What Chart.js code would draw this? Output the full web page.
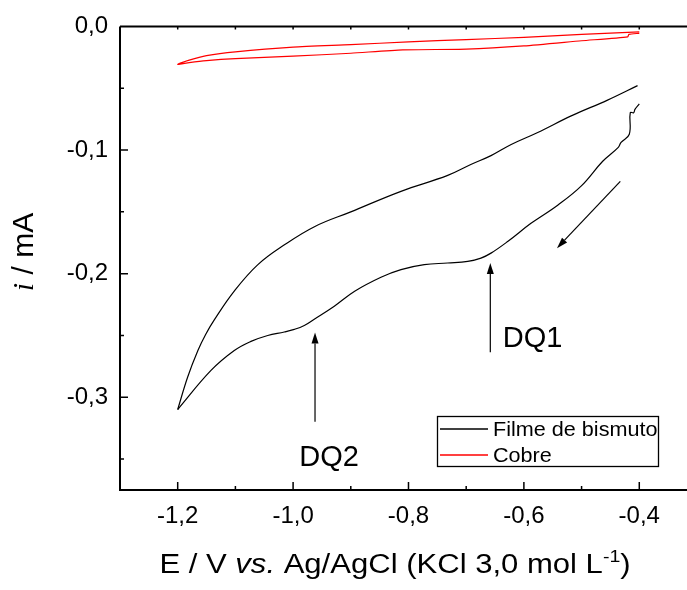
<!DOCTYPE html>
<html lang="pt">
<head>
<meta charset="UTF-8">
<title>Voltamograma - Filme de bismuto / Cobre</title>
<script src="https://cdn.jsdelivr.net/npm/chart.js"></script>
<style>
    body {
        margin: 0;
        background: #fff;
    }
</style>
</head>
<body>
<canvas id="cv" width="687" height="590"></canvas>
<script>
// Filme de bismuto: varredura catodica (-0,4 -> -1,2)
const bismutoIdaE = [-0.400, -0.4075, -0.4097, -0.4156, -0.4173, -0.4316, -0.4364, -0.4634, -0.5004, -0.5414,
    -0.5877, -0.6281, -0.6570, -0.6744, -0.6974, -0.7321, -0.7726, -0.8130, -0.8477, -0.8933,
    -0.9286, -0.9633, -0.9806, -0.9979, -1.0153, -1.0440, -1.0730, -1.1019, -1.1423, -1.200];
const bismutoIdaI = [-0.0626, -0.0671, -0.0698, -0.0698, -0.0872, -0.0938, -0.0978, -0.1091, -0.1290, -0.1446,
    -0.1593, -0.1740, -0.1834, -0.1874, -0.1901, -0.1914, -0.1927, -0.1967, -0.2029, -0.2142,
    -0.2263, -0.2368, -0.2419, -0.2451, -0.2472, -0.2500, -0.2548, -0.2622, -0.2783, -0.3099];
// e volta (-1,2 -> -0,4)
const bismutoVoltaE = [-1.200, -1.1827, -1.165, -1.1518, -1.1366, -1.102, -1.061, -1.015, -0.963, -0.900,
    -0.813, -0.732, -0.692, -0.657, -0.622, -0.576, -0.518, -0.455, -0.403];
const bismutoVoltaI = [-0.3099, -0.2836, -0.2622, -0.2494, -0.2374, -0.2141, -0.1927, -0.1767, -0.1620, -0.1500,
    -0.1334, -0.1205, -0.1117, -0.1045, -0.0955, -0.0858, -0.0724, -0.0596, -0.0479];

// Cobre
const cobreE = [-0.400, -0.500, -0.600, -0.700, -0.800, -0.900, -1.000, -1.100, -1.150, -1.180, -1.200,
    -1.180, -1.150, -1.100, -1.000, -0.900, -0.810, -0.700, -0.600, -0.500, -0.420, -0.418, -0.400];
const cobreI = [-0.0044, -0.0065, -0.0088, -0.0107, -0.0125, -0.0148, -0.0168, -0.0206, -0.0237, -0.0273, -0.0307,
    -0.0293, -0.0277, -0.0261, -0.0241, -0.0217, -0.0190, -0.0184, -0.0158, -0.0116, -0.0084, -0.0064, -0.0056];

const seriesNames = ['Filme de bismuto', 'Cobre'];
const xTicks = [-1.2, -1.0, -0.8, -0.6, -0.4];
const yTicks = [0.0, -0.1, -0.2, -0.3];

// anotacoes (em unidades dos eixos)
const notes = [
    { text: 'DQ1', e: -0.6367, i: -0.2596 },
    { text: 'DQ2', e: -0.9892, i: -0.3553 }
];
const arrows = [
    { e0: -0.6582, i0: -0.2636, e1: -0.6582, i1: -0.1914 },
    { e0: -0.962, i0: -0.3197, e1: -0.962, i1: -0.2476 },
    { e0: -0.4329, i0: -0.1253, e1: -0.5426, i1: -0.1794 }
];

const toXY = (xs, ys) => xs.map((x, k) => ({ x: x, y: ys[k] }));
const fmt = v => (Math.abs(v) < 1e-9 ? 0 : v).toFixed(1).replace('.', ',');
const SANS = '"Liberation Sans", Arial, sans-serif';

function arrow(ctx, x0, y0, x1, y1) {
    const ang = Math.atan2(y1 - y0, x1 - x0);
    const len = 11, hw = 3.5;
    const bx = x1 - len * Math.cos(ang), by = y1 - len * Math.sin(ang);
    ctx.beginPath();
    ctx.moveTo(x0, y0);
    ctx.lineTo(bx, by);
    ctx.stroke();
    ctx.beginPath();
    ctx.moveTo(x1, y1);
    ctx.lineTo(bx + hw * Math.sin(ang), by - hw * Math.cos(ang));
    ctx.lineTo(bx - hw * Math.sin(ang), by + hw * Math.cos(ang));
    ctx.closePath();
    ctx.fill();
}

// texto em partes (fontes diferentes), com esticamento horizontal sx
function richText(ctx, parts, cx, y, sx) {
    let w = 0;
    parts.forEach(p => { ctx.font = p.f; w += ctx.measureText(p.t).width; });
    ctx.save();
    ctx.translate(cx, y);
    ctx.scale(sx, 1);
    let x = -w / 2;
    parts.forEach(p => {
        ctx.font = p.f;
        ctx.fillText(p.t, x, p.dy || 0);
        x += ctx.measureText(p.t).width;
    });
    ctx.restore();
}

const decor = {
    id: 'decor',
    afterDraw(chart) {
        const ctx = chart.ctx;
        const a = chart.chartArea;
        const xs = chart.scales.x, ys = chart.scales.y;
        ctx.save();
        ctx.strokeStyle = '#000';
        ctx.fillStyle = '#000';

        // eixos
        ctx.lineWidth = 2;
        ctx.beginPath();
        ctx.moveTo(a.left, a.top);
        ctx.lineTo(a.left, a.bottom);
        ctx.lineTo(a.right, a.bottom);
        ctx.moveTo(a.left, a.top);
        ctx.lineTo(a.right, a.top);
        ctx.stroke();

        // marcas para dentro
        ctx.lineWidth = 1.5;
        ctx.beginPath();
        for (let k = 1; k <= 7; k++) {
            const py = ys.getPixelForValue(-0.05 * k);
            const len = k % 2 === 0 ? 8 : 4;
            ctx.moveTo(a.left, py);
            ctx.lineTo(a.left + len, py);
        }
        for (let k = 0; k <= 8; k++) {
            const px = xs.getPixelForValue(-1.2 + 0.1 * k);
            const len = k % 2 === 0 ? 8 : 4;
            ctx.moveTo(px, a.bottom);
            ctx.lineTo(px, a.bottom - len);
            ctx.moveTo(px, a.top);
            ctx.lineTo(px, a.top + 3);
        }
        ctx.stroke();

        // setas e rotulos
        ctx.lineWidth = 1.2;
        arrows.forEach(r => arrow(ctx, xs.getPixelForValue(r.e0), ys.getPixelForValue(r.i0),
            xs.getPixelForValue(r.e1), ys.getPixelForValue(r.i1)));
        ctx.font = '29px ' + SANS;
        ctx.textBaseline = 'alphabetic';
        ctx.textAlign = 'left';
        notes.forEach(n => ctx.fillText(n.text, xs.getPixelForValue(n.e), ys.getPixelForValue(n.i)));

        // legenda (uma entrada por nome)
        ctx.lineWidth = 1.3;
        ctx.strokeRect(437.5, 416.5, 221, 50);
        ctx.font = '20px ' + SANS;
        ctx.textBaseline = 'middle';
        seriesNames.forEach((name, k) => {
            const ds = chart.data.datasets.find(d => d.label === name);
            const cy = 429 + k * 26;
            ctx.strokeStyle = ds.borderColor;
            ctx.lineWidth = 1.5;
            ctx.beginPath();
            ctx.moveTo(440, cy);
            ctx.lineTo(488, cy);
            ctx.stroke();
            ctx.save();
            ctx.translate(493, cy + 1);
            ctx.scale(1.08, 1);
            ctx.fillText(name, 0, 0);
            ctx.restore();
        });

        // titulo do eixo x
        ctx.textBaseline = 'alphabetic';
        richText(ctx, [
            { t: 'E / V ', f: '27px ' + SANS },
            { t: 'vs.', f: 'italic 27px ' + SANS },
            { t: ' Ag/AgCl (KCl 3,0 mol L', f: '27px ' + SANS },
            { t: '-1', f: '17px ' + SANS, dy: -11 },
            { t: ')', f: '27px ' + SANS }
        ], 395, 573, 1.15);

        // titulo do eixo y
        ctx.translate(33, 252);
        ctx.rotate(-Math.PI / 2);
        richText(ctx, [
            { t: 'i', f: 'italic 30px "Liberation Serif", serif' },
            { t: ' / mA', f: '30px ' + SANS }
        ], 0, 0, 1);
        ctx.restore();
    }
};

const tickFont = { family: SANS, size: 24 };
const lineStyle = (label, color, tension) => ({
    label: label,
    showLine: true,
    borderColor: color,
    borderWidth: 1.2,
    pointRadius: 0,
    tension: tension
});

new Chart(document.getElementById('cv'), {
    type: 'scatter',
    data: {
        datasets: [
            Object.assign(lineStyle(seriesNames[0], '#000000', 0.4), { data: toXY(bismutoIdaE, bismutoIdaI) }),
            Object.assign(lineStyle(seriesNames[0], '#000000', 0.4), { data: toXY(bismutoVoltaE, bismutoVoltaI) }),
            Object.assign(lineStyle(seriesNames[1], '#ff0000', 0.2), { data: toXY(cobreE, cobreI) })
        ]
    },
    options: {
        responsive: false,
        animation: false,
        layout: { padding: { top: 23, right: 0, left: 0, bottom: 0 } },
        plugins: {
            legend: { display: false },
            tooltip: { enabled: false }
        },
        scales: {
            x: {
                type: 'linear',
                min: -1.3,
                max: -0.3173,
                grid: { display: false, drawTicks: false },
                border: { display: false },
                afterBuildTicks: s => { s.ticks = xTicks.map(v => ({ value: v })); },
                afterFit: s => { s.height = 100; },
                ticks: {
                    color: '#000',
                    font: tickFont,
                    padding: 12,
                    maxRotation: 0,
                    autoSkip: false,
                    callback: v => fmt(v)
                }
            },
            y: {
                type: 'linear',
                min: -0.375,
                max: 0.0,
                grid: { display: false, drawTicks: false },
                border: { display: false },
                afterBuildTicks: s => { s.ticks = yTicks.map(v => ({ value: v })); },
                afterFit: s => { s.width = 120; },
                ticks: {
                    color: '#000',
                    font: tickFont,
                    padding: 12,
                    autoSkip: false,
                    callback: v => fmt(v)
                }
            }
        }
    },
    plugins: [decor]
});
</script>
</body>
</html>
